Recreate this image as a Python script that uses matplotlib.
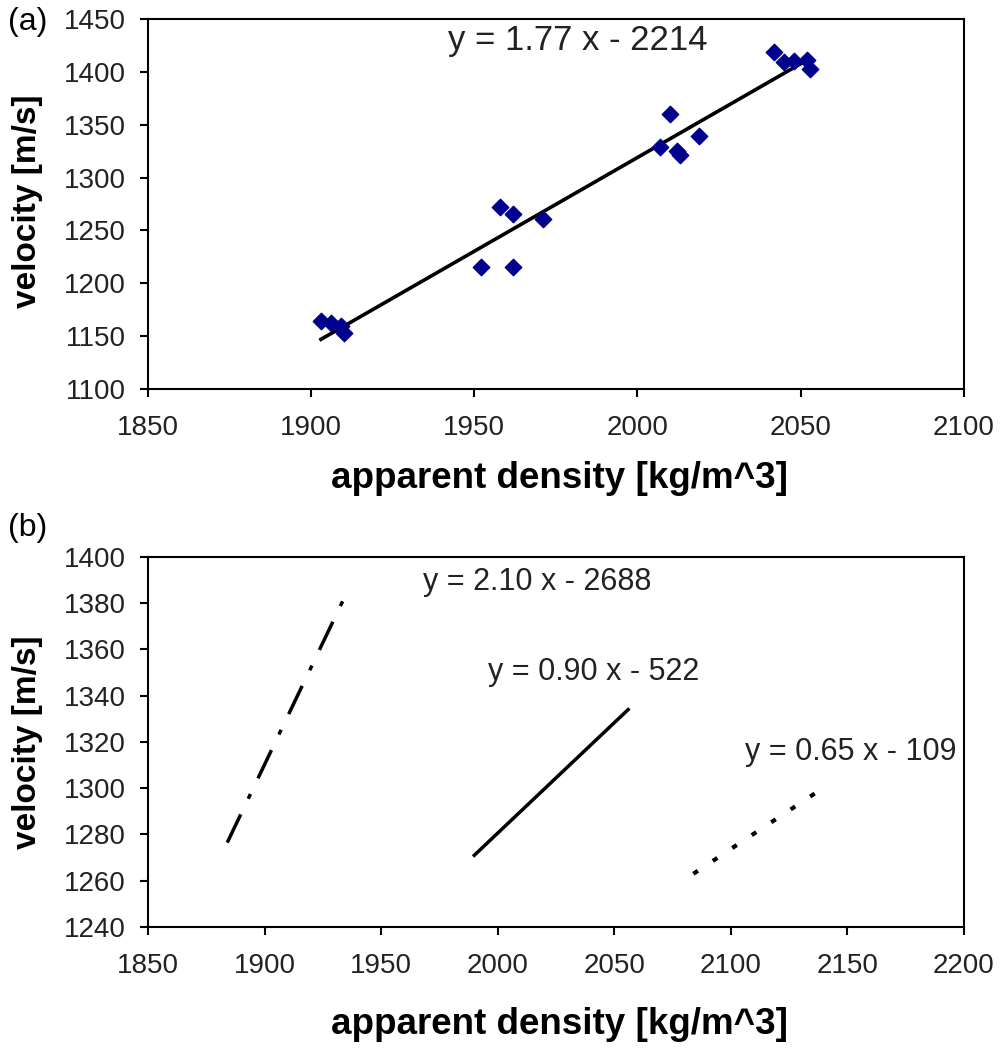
import matplotlib
matplotlib.use("Agg")
import matplotlib.pyplot as plt

plt.rcParams['font.family'] = ['Liberation Sans', 'DejaVu Sans']

# (a) measured points
density_a = [1903, 1906, 1909, 1910, 1952, 1958, 1962, 1962, 1971,
             2007, 2010, 2012, 2013, 2019, 2042, 2045, 2048, 2052, 2053]
velocity_a = [1164, 1162, 1160, 1153, 1215, 1272, 1266, 1215, 1261,
              1329, 1360, 1325, 1321, 1339, 1419, 1409, 1410, 1411, 1403]
fit_a_x = [1903, 2053]
fit_a_y = [1147, 1413]
eq_a = "y = 1.77 x - 2214"

# (b) three fitted lines
line1_x = [1884, 1935]
line1_y = [1276.5, 1384]
line2_x = [1990, 2056]
line2_y = [1271, 1334]
line3_x = [2084, 2138]
line3_y = [1263, 1299]
eq_b = ["y = 2.10 x - 2688", "y = 0.90 x - 522", "y = 0.65 x - 109"]

xticks_a = [1850, 1900, 1950, 2000, 2050, 2100]
yticks_a = [1100, 1150, 1200, 1250, 1300, 1350, 1400, 1450]
xticks_b = [1850, 1900, 1950, 2000, 2050, 2100, 2150, 2200]
yticks_b = [1240, 1260, 1280, 1300, 1320, 1340, 1360, 1380, 1400]


def style_axes(ax):
    for s in ax.spines.values():
        s.set_linewidth(1.5)
    ax.tick_params(axis='both', direction='out', length=6, width=1.5,
                   labelsize=20, labelcolor='#222222')
    ax.tick_params(axis='y', pad=10)
    ax.tick_params(axis='x', pad=13)


fig = plt.figure(figsize=(10.07, 10.48), dpi=100)
ax1 = fig.add_axes([0.147, 0.6288, 0.810, 0.353])
ax2 = fig.add_axes([0.147, 0.1155, 0.810, 0.353])

ax1.scatter(density_a, velocity_a, marker='D', s=70, color='#000090', zorder=3)
ax1.plot(fit_a_x, fit_a_y, color='black', lw=2.6, zorder=2)
ax1.text(1981.7, 1430, eq_a, fontsize=25, ha='center', va='center', color='#222222')
ax1.set_xlim(1850, 2100)
ax1.set_ylim(1100, 1450)
ax1.set_xticks(xticks_a)
ax1.set_yticks(yticks_a)
style_axes(ax1)

ax2.plot(line1_x, line1_y, color='black', lw=2.5, linestyle=(0, (9, 5, 1.5, 5)))
ax2.plot(line2_x, line2_y, color='black', lw=2.5)
ax2.plot(line3_x, line3_y, color='black', lw=3, linestyle=(0, (1.3, 4.3)))
ax2.text(2016.9, 1389.2, eq_b[0], fontsize=22, ha='center', va='center', color='#222222')
ax2.text(2041.3, 1350.3, eq_b[1], fontsize=22, ha='center', va='center', color='#222222')
ax2.text(2151.6, 1315.7, eq_b[2], fontsize=22, ha='center', va='center', color='#222222')
ax2.set_xlim(1850, 2200)
ax2.set_ylim(1240, 1400)
ax2.set_xticks(xticks_b)
ax2.set_yticks(yticks_b)
style_axes(ax2)

fig.text(0.556, 1 - 478 / 1048, "apparent density [kg/m^3]", fontsize=26.5,
         fontweight='bold', ha='center', va='center')
fig.text(0.556, 1 - 1025 / 1048, "apparent density [kg/m^3]", fontsize=26.5,
         fontweight='bold', ha='center', va='center')
fig.text(28 / 1007, 1 - 201 / 1048, "velocity [m/s]", fontsize=24,
         fontweight='bold', ha='center', va='center', rotation=90)
fig.text(28 / 1007, 1 - 742 / 1048, "velocity [m/s]", fontsize=24,
         fontweight='bold', ha='center', va='center', rotation=90)
fig.text(28 / 1007, 1 - 22 / 1048, "(a)", fontsize=23, ha='center', va='center')
fig.text(28 / 1007, 1 - 528 / 1048, "(b)", fontsize=23, ha='center', va='center')

fig.savefig('out.png', dpi=100)
